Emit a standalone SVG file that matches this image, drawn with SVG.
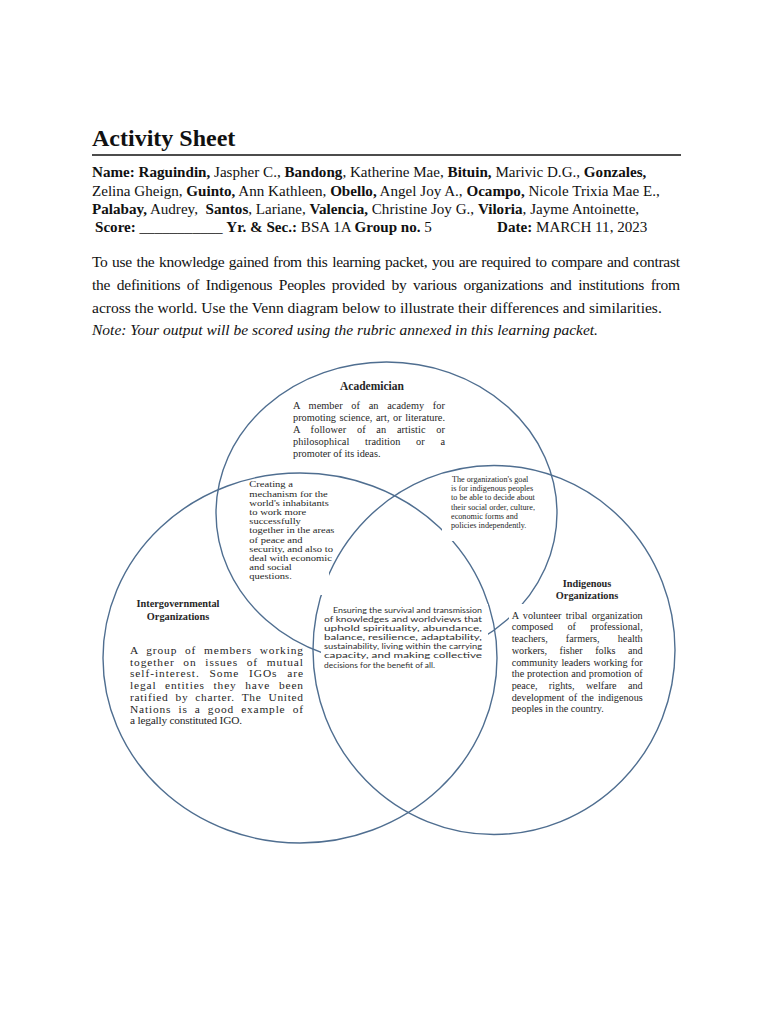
<svg xmlns="http://www.w3.org/2000/svg" width="768" height="1024" viewBox="0 0 768 1024">
<style>
text{font-family:"Liberation Serif","Times New Roman",serif;fill:#111}
.b{font-weight:bold}
.i{font-style:italic}
.h{font-size:15.1px}
.p{font-size:15.5px}
#venn text{fill:#262626}
#venn .sans{font-family:Lato,"Liberation Sans",sans-serif;fill:#303030}
.circ{fill:none;stroke:#4f6e90;stroke-width:1.4}
.m{fill:#fff}
</style>
<rect width="768" height="1024" fill="#fff"/>
<g id="header">
<text class="b" x="92" y="146" font-size="24">Activity Sheet</text>
<line x1="92" y1="155" x2="681" y2="155" stroke="#111" stroke-width="1.3"/>
<text class="h" x="92" y="177"><tspan class="b">Name: Raguindin,</tspan> Jaspher C., <tspan class="b">Bandong</tspan>, Katherine Mae, <tspan class="b">Bituin,</tspan> Marivic D.G., <tspan class="b">Gonzales,</tspan></text>
<text class="h" x="92" y="195.5">Zelina Gheign, <tspan class="b">Guinto,</tspan> Ann Kathleen, <tspan class="b">Obello,</tspan> Angel Joy A., <tspan class="b">Ocampo,</tspan> Nicole Trixia Mae E.,</text>
<text class="h" x="92" y="214" xml:space="preserve"><tspan class="b">Palabay,</tspan> Audrey,  <tspan class="b">Santos</tspan>, Lariane, <tspan class="b">Valencia,</tspan> Christine Joy G., <tspan class="b">Viloria</tspan>, Jayme Antoinette,</text>
<text class="h" x="95" y="232"><tspan class="b">Score:</tspan> ___________ <tspan class="b">Yr. &amp; Sec.:</tspan> BSA 1A <tspan class="b">Group no.</tspan> 5</text>
<text class="h" x="497" y="232"><tspan class="b">Date:</tspan> MARCH 11, 2023</text>
</g>
<g id="instructions">
<text class="p" x="92" y="267" textLength="588" lengthAdjust="spacing" word-spacing="1">To use the knowledge gained from this learning packet, you are required to compare and contrast</text>
<text class="p" x="92" y="290" textLength="588" lengthAdjust="spacing" word-spacing="3">the definitions of Indigenous Peoples provided by various organizations and institutions from</text>
<text class="p" x="92" y="313">across the world. Use the Venn diagram below to illustrate their differences and similarities.</text>
<text class="p i" x="92" y="335">Note: Your output will be scored using the rubric annexed in this learning packet.</text>
</g>
<g id="venn">
<g id="circles">
<ellipse class="circ" cx="386.5" cy="513" rx="170.5" ry="151"/>
<ellipse class="circ" cx="300" cy="658" rx="197" ry="185"/>
<ellipse class="circ" cx="494" cy="650" rx="181" ry="184.5"/>
</g>
<g id="masks">
<rect class="m" x="245" y="481" width="84" height="114"/>
<rect class="m" x="442" y="474" width="98" height="67"/>
<rect class="m" x="321" y="604" width="167" height="68"/>
<rect class="m" x="509" y="604" width="137" height="112"/>
</g>
<g id="academician">
<text class="b" x="372" y="390" text-anchor="middle" font-size="11.5">Academician</text>
<g font-size="10.3">
<text x="293" y="408.5" textLength="152" lengthAdjust="spacing" word-spacing="6">A member of an academy for</text>
<text x="293" y="420.5" textLength="152" lengthAdjust="spacing" word-spacing="1">promoting science, art, or literature.</text>
<text x="293" y="432.5" textLength="152" lengthAdjust="spacing" word-spacing="8">A follower of an artistic or</text>
<text x="293" y="444.5" textLength="152" lengthAdjust="spacing" word-spacing="13">philosophical tradition or a</text>
<text x="293" y="456.5">promoter of its ideas.</text>
</g>
</g>
<g id="academician-igo" transform="translate(249.3 0) scale(1.2 1)" font-size="8.8">
<text x="0" y="487.5">Creating a</text>
<text x="0" y="496.7">mechanism for the</text>
<text x="0" y="505.9">world's inhabitants</text>
<text x="0" y="515.1">to work more</text>
<text x="0" y="524.3">successfully</text>
<text x="0" y="533.5">together in the areas</text>
<text x="0" y="542.7">of peace and</text>
<text x="0" y="551.9">security, and also to</text>
<text x="0" y="561.1">deal with economic</text>
<text x="0" y="570.3">and social</text>
<text x="0" y="579.5">questions.</text>
</g>
<g id="academician-indigenous" font-size="8.2">
<text x="452" y="482">The organization's goal</text>
<text x="451" y="491.2">is for indigenous peoples</text>
<text x="451" y="500.4">to be able to decide about</text>
<text x="451" y="509.6">their social order, culture,</text>
<text x="451" y="518.8">economic forms and</text>
<text x="451" y="528">policies independently.</text>
</g>
<g id="igo">
<text class="b" x="178" y="607" text-anchor="middle" font-size="10.3">Intergovernmental</text>
<text class="b" x="178" y="620" text-anchor="middle" font-size="10.3">Organizations</text>
<g font-size="11.4">
<text x="130" y="654" textLength="173" lengthAdjust="spacing" word-spacing="4">A group of members working</text>
<text x="130" y="665.7" textLength="173" lengthAdjust="spacing" word-spacing="5">together on issues of mutual</text>
<text x="130" y="677.4" textLength="173" lengthAdjust="spacing" word-spacing="6">self-interest. Some IGOs are</text>
<text x="130" y="689.1" textLength="173" lengthAdjust="spacing" word-spacing="5">legal entities they have been</text>
<text x="130" y="700.8" textLength="173" lengthAdjust="spacing" word-spacing="3.5">ratified by charter. The United</text>
<text x="130" y="712.5" textLength="173" lengthAdjust="spacing" word-spacing="3.5">Nations is a good example of</text>
<text x="130" y="724.2" textLength="112" lengthAdjust="spacing">a legally constituted IGO.</text>
</g>
</g>
<g id="center" font-size="8.2">
<text class="sans" x="333" y="612.5" textLength="149" lengthAdjust="spacingAndGlyphs">Ensuring the survival and transmission</text>
<text class="sans" x="324" y="621.7" textLength="158" lengthAdjust="spacingAndGlyphs">of knowledges and worldviews that</text>
<text class="sans" x="324" y="630.8" textLength="158" lengthAdjust="spacingAndGlyphs">uphold spirituality, abundance,</text>
<text class="sans" x="324" y="640" textLength="158" lengthAdjust="spacingAndGlyphs">balance, resilience, adaptability,</text>
<text class="sans" x="324" y="649.2" textLength="158" lengthAdjust="spacingAndGlyphs">sustainability, living within the carrying</text>
<text class="sans" x="324" y="658.3" textLength="158" lengthAdjust="spacingAndGlyphs">capacity, and making collective</text>
<text class="sans" x="324" y="667.5" textLength="111" lengthAdjust="spacingAndGlyphs">decisions for the benefit of all.</text>
</g>
<g id="indigenous">
<text class="b" x="587" y="587" text-anchor="middle" font-size="10.3">Indigenous</text>
<text class="b" x="587" y="599" text-anchor="middle" font-size="10.3">Organizations</text>
<g font-size="10.2">
<text x="511.7" y="618.7" textLength="131" lengthAdjust="spacing" word-spacing="1.7">A volunteer tribal organization</text>
<text x="511.7" y="630.4" textLength="131" lengthAdjust="spacing" word-spacing="11.8">composed of professional,</text>
<text x="511.7" y="642.1" textLength="131" lengthAdjust="spacing" word-spacing="15.6">teachers, farmers, health</text>
<text x="511.7" y="653.8" textLength="131" lengthAdjust="spacing" word-spacing="9.9">workers, fisher folks and</text>
<text x="511.7" y="665.5" textLength="131" lengthAdjust="spacing" word-spacing="0.7">community leaders working for</text>
<text x="511.7" y="677.2" textLength="131" lengthAdjust="spacing" word-spacing="0.3">the protection and promotion of</text>
<text x="511.7" y="688.9" textLength="131" lengthAdjust="spacing" word-spacing="8.8">peace, rights, welfare and</text>
<text x="511.7" y="700.6" textLength="131" lengthAdjust="spacing" word-spacing="1.7">development of the indigenous</text>
<text x="511.7" y="712.3">peoples in the country.</text>
</g>
</g>
</g>
</svg>
